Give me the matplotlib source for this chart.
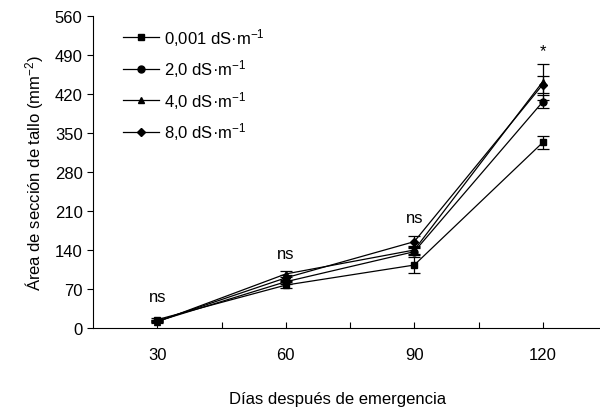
import numpy as np
import matplotlib
matplotlib.use('Agg')
import matplotlib.pyplot as plt
from matplotlib.lines import Line2D

plt.rcParams['font.family'] = ['Liberation Sans', 'DejaVu Sans']
plt.rcParams['mathtext.fontset'] = 'custom'
plt.rcParams['mathtext.rm'] = 'Liberation Sans'
plt.rcParams['mathtext.it'] = 'Liberation Sans'

dias = [30, 60, 90, 120]
labels = ['0,001 dS·m$\\mathregular{^{-1}}$', '2,0 dS·m$\\mathregular{^{-1}}$',
          '4,0 dS·m$\\mathregular{^{-1}}$', '8,0 dS·m$\\mathregular{^{-1}}$']
markers = ['s', 'o', '^', 'D']

area_0001 = [15, 77, 113, 333]
area_2 = [12, 83, 137, 406]
area_4 = [11, 97, 140, 442]
area_8 = [12, 90, 155, 437]
err_0001 = [3, 5, 15, 12]
err_2 = [2, 4, 6, 12]
err_4 = [2, 5, 8, 32]
err_8 = [2, 5, 10, 15]

signif = ['ns', 'ns', 'ns', '*']
signif_y = [56, 133, 199, 498]

series = [area_0001, area_2, area_4, area_8]
errors = [err_0001, err_2, err_4, err_8]

fig = plt.figure(figsize=(6.0, 4.1), dpi=100)
ax = fig.add_axes([93/600, 1 - 329/410, 514/600, 312/410])

handles = []
for y, e, m, lab in zip(series, errors, markers, labels):
    ms = 4.5 if m == 'D' else 5
    ax.errorbar(dias, y, yerr=e, color='black', marker=m, markersize=ms,
                linewidth=0.9, elinewidth=0.9, capsize=4, capthick=0.9)
    handles.append(Line2D([], [], color='black', marker=m, markersize=ms,
                          linewidth=0.9, label=lab))

for xd, s, ys in zip(dias, signif, signif_y):
    ax.text(xd, ys, s, ha='center', va='center', fontsize=12)

ax.set_xlim(15, 135)
ax.set_ylim(0, 560)
ax.set_yticks(np.arange(0, 561, 70))
ax.set_xticks(np.arange(30, 121, 15))
ax.set_xticklabels(['30', '', '60', '', '90', '', '120'])
ax.tick_params(axis='x', direction='in', length=4.5, width=0.8, pad=14, labelsize=12)
ax.tick_params(axis='y', direction='out', length=4, width=0.8, labelsize=12)
ax.spines['top'].set_visible(False)
ax.spines['right'].set_visible(False)
ax.spines['bottom'].set_clip_on(False)

ax.set_ylabel('Área de sección de tallo (mm$\\mathregular{^{-2}}$)', fontsize=12, labelpad=6)
ax.set_xlabel('Días después de emergencia', fontsize=12)
ax.xaxis.set_label_coords((338 - 93) / 514, -0.203)

ax.legend(handles=handles, loc='upper left', bbox_to_anchor=(0.045, 0.99), frameon=False,
          fontsize=12, handlelength=2.2, handletextpad=0.3, labelspacing=0.58,
          borderaxespad=0)

plt.savefig('out.png', dpi=100)
